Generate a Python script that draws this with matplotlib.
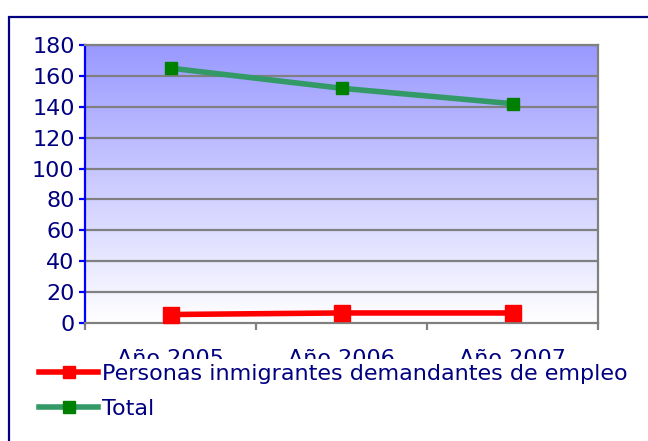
import numpy as np
import matplotlib
matplotlib.use("Agg")
import matplotlib.pyplot as plt
from matplotlib.patches import Rectangle
from matplotlib.lines import Line2D
from matplotlib.transforms import Bbox, TransformedBbox
from matplotlib.colors import LinearSegmentedColormap

categories = ["Año 2005", "Año 2006", "Año 2007"]
inmigrantes = [5.5, 6.5, 6.5]
total = [165, 152, 142]
series_names = ["Personas inmigrantes demandantes de empleo", "Total"]
yticks = [0, 20, 40, 60, 80, 100, 120, 140, 160, 180]

W, H = 648, 441
FS = 16
fig = plt.figure(figsize=(W / 100, H / 100), dpi=100)
fig.patch.set_facecolor("white")

# outer frame (navy), clipped by the figure edges on right/bottom
fig.patches.append(Rectangle((9 / W, -0.1), 1.2, 1 - 17 / H + 0.1, transform=fig.transFigure,
                             fill=False, edgecolor="#000080", linewidth=1.6, figure=fig))

ax = fig.add_axes([85 / W, 1 - 323 / H, 513 / W, 278 / H])
x = np.arange(len(categories))

# gradient background
cmap = LinearSegmentedColormap.from_list("bg", ["#ffffff", "#9999ff"])
grad = np.linspace(0, 1, 256).reshape(-1, 1)
ax.imshow(grad, extent=[-0.5, 2.5, 0, 180], origin="lower", aspect="auto",
          cmap=cmap, zorder=0, interpolation="bicubic")

ax.set_xlim(-0.5, 2.5)
ax.set_ylim(0, 180)

for yv in yticks[1:]:
    ax.axhline(yv, color="#808080", linewidth=1.6, zorder=1)

ax.plot(x, inmigrantes, color="#ff0000", linewidth=4, marker="s", markersize=11,
        markerfacecolor="#ff0000", markeredgecolor="#ff0000", zorder=3, clip_on=False)
ax.plot(x, total, color="#339966", linewidth=4, marker="s", markersize=8,
        markerfacecolor="#008000", markeredgecolor="#008000", zorder=3, clip_on=False)

for s in ["top", "right", "bottom"]:
    ax.spines[s].set_color("#808080")
    ax.spines[s].set_linewidth(1.6)
ax.spines["left"].set_color("#0000ff")
ax.spines["left"].set_linewidth(1.6)

ax.set_yticks(yticks)
ax.set_yticklabels([str(v) for v in yticks])
ax.tick_params(axis="y", colors="#0000ff", labelcolor="#000080", labelsize=FS,
               length=4.5, width=1.6, pad=3, direction="out")

ax.set_xticks(x)
ax.set_xticklabels(categories)
ax.set_xticks([-0.5, 0.5, 1.5, 2.5], minor=True)
ax.tick_params(axis="x", which="major", length=0, labelcolor="#000080", labelsize=FS, pad=19)
ax.tick_params(axis="x", which="minor", length=5, width=1.6, color="#808080", direction="out")

# category labels are cut off at their bottom, as in the reference
clip = TransformedBbox(Bbox([[0, 1 - 359 / H], [1, 1]]), fig.transFigure)
for lab in ax.get_xticklabels():
    lab.set_clip_on(True)
    lab.set_clip_box(clip)

handles = [
    Line2D([], [], color="#ff0000", linewidth=4, marker="s", markersize=8,
           markerfacecolor="#ff0000", markeredgecolor="#ff0000"),
    Line2D([], [], color="#339966", linewidth=4, marker="s", markersize=8,
           markerfacecolor="#008000", markeredgecolor="#008000"),
]
leg = fig.legend(handles, series_names, loc="upper left", bbox_to_anchor=(39 / W, 1 - 364 / H),
                 frameon=False, fontsize=FS, handlelength=2.66, handletextpad=0.18,
                 labelspacing=0.67, borderaxespad=0, borderpad=0)
for t in leg.get_texts():
    t.set_color("#000080")

fig.savefig("out.png", dpi=100, facecolor="white")
